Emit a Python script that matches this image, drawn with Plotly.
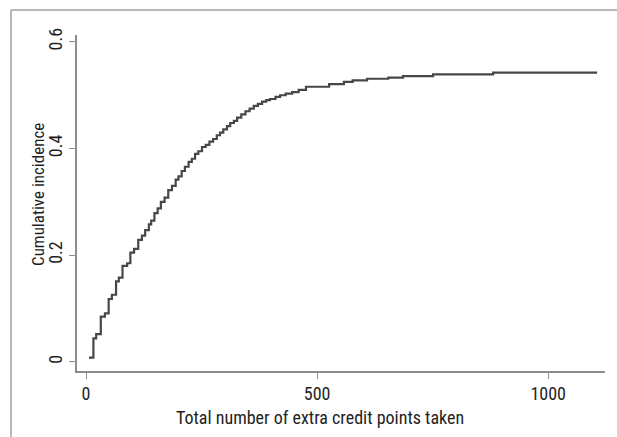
import plotly.graph_objects as go

# Step times (extra credit points) and cumulative incidence
points = [6.5, 16, 22, 32, 41, 49, 56, 65, 71, 79, 89, 96, 104, 113, 121, 128,
          136, 141, 148, 155, 162, 170, 178, 186, 194, 200, 207, 214,
          222, 229, 236, 243, 251, 259, 267, 275,
          283, 290, 297, 305, 312, 320, 327,
          336, 345, 354, 363, 372, 381, 390, 398,
          410, 420, 432, 446, 460, 476, 526, 558, 577, 608, 654, 686, 751, 881, 1106]
incidence = [0.008, 0.044, 0.052, 0.085, 0.091, 0.118, 0.126, 0.151, 0.158, 0.180, 0.185, 0.205, 0.212, 0.229, 0.237, 0.247,
             0.258, 0.265, 0.279, 0.288, 0.300, 0.308, 0.322, 0.330, 0.342, 0.348, 0.358, 0.366,
             0.375, 0.381, 0.390, 0.395, 0.403, 0.407, 0.413, 0.418,
             0.425, 0.430, 0.436, 0.442, 0.448, 0.452, 0.458,
             0.464, 0.470, 0.475, 0.480, 0.484, 0.488, 0.491, 0.493,
             0.497, 0.500, 0.503, 0.506, 0.510, 0.516, 0.521, 0.525, 0.528, 0.531, 0.533, 0.536, 0.539, 0.5425, 0.5425]

x_ticks = [0, 500, 1000]
y_ticks = [0, 0.2, 0.4, 0.6]
y_tick_labels = ["0", "0.2", "0.4", "0.6"]
x_title = "Total number of extra credit points taken"
y_title = "Cumulative incidence"

FONT = "Liberation Sans Narrow, Arial Narrow, Roboto Condensed, sans-serif"
AXIS_GRAY = "#8c8c8c"
TEXT = "#1e1e1e"

fig = go.Figure()
fig.add_trace(go.Scatter(
    x=points, y=incidence, mode="lines",
    line=dict(shape="hv", color="#474747", width=2.2),
    showlegend=False,
))

fig.update_layout(
    width=617, height=437,
    margin=dict(l=77, r=12, t=35, b=66),
    paper_bgcolor="white", plot_bgcolor="white",
    font=dict(family=FONT, size=18, color=TEXT),
    xaxis=dict(
        range=[-19.5, 1123], tickvals=x_ticks, ticktext=[str(v) for v in x_ticks],
        showline=True, linecolor=AXIS_GRAY, linewidth=1.5,
        ticks="outside", ticklen=6, tickcolor=AXIS_GRAY, tickwidth=1.2,
        showgrid=False, zeroline=False,
        tickfont=dict(family=FONT, size=18),
    ),
    yaxis=dict(
        range=[-0.017, 0.613], tickvals=y_ticks, ticktext=y_tick_labels,
        tickangle=-90,
        showline=True, linecolor=AXIS_GRAY, linewidth=1.5,
        ticks="outside", ticklen=6, tickcolor=AXIS_GRAY, tickwidth=1.2,
        showgrid=False, zeroline=False,
        tickfont=dict(family=FONT, size=18),
    ),
    annotations=[
        dict(text=x_title, xref="paper", yref="paper",
             x=(320 - 77) / 528, y=(371 - 417) / 336,
             xanchor="center", yanchor="middle", showarrow=False,
             font=dict(family=FONT, size=18, color=TEXT)),
        dict(text=y_title, xref="paper", yref="paper", textangle=-90,
             x=(38 - 77) / 528, y=(371 - 195) / 336,
             xanchor="center", yanchor="middle", showarrow=False,
             font=dict(family=FONT, size=17, color=TEXT)),
    ],
    shapes=[
        dict(type="line", xref="paper", yref="paper",
             x0=(11 - 77) / 528, x1=(617 - 77) / 528,
             y0=(371 - 10) / 336, y1=(371 - 10) / 336,
             line=dict(color="#a0a0a0", width=1.5)),
        dict(type="line", xref="paper", yref="paper",
             x0=(11 - 77) / 528, x1=(11 - 77) / 528,
             y0=(371 - 10) / 336, y1=(371 - 437) / 336,
             line=dict(color="#a0a0a0", width=1.5)),
    ],
)

fig.write_html("out.html")
